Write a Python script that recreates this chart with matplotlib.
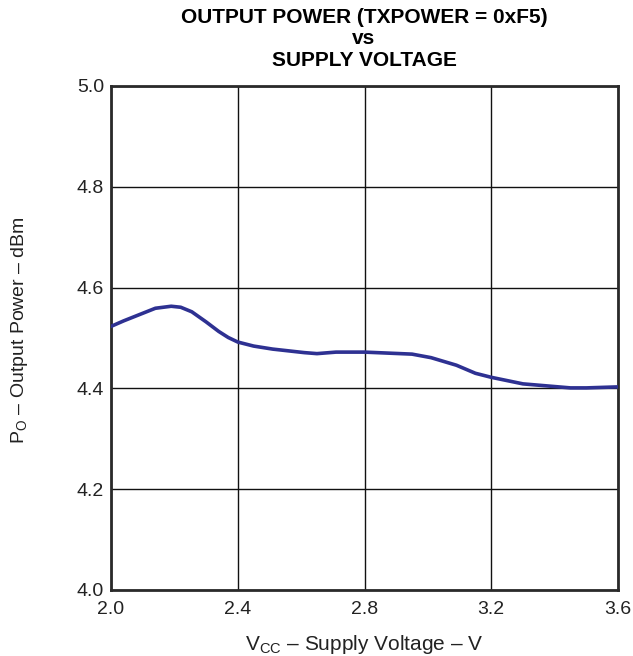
import numpy as np
import matplotlib
matplotlib.use("Agg")
import matplotlib.pyplot as plt

plt.rcParams['font.family'] = ['Liberation Sans', 'DejaVu Sans']
plt.rcParams['mathtext.fontset'] = 'custom'
plt.rcParams['mathtext.rm'] = 'Liberation Sans'

# supply voltage (V) and output power (dBm)
vcc = [2.00, 2.04, 2.10, 2.14, 2.19, 2.22, 2.255, 2.30, 2.34, 2.37, 2.40,
       2.45, 2.51, 2.61, 2.65, 2.71, 2.80, 2.95, 3.01, 3.09, 3.15, 3.20,
       3.30, 3.45, 3.50, 3.60]
p_out = [4.523, 4.534, 4.549, 4.559, 4.563, 4.561, 4.552, 4.532, 4.513,
         4.501, 4.492, 4.484, 4.478, 4.471, 4.469, 4.472, 4.472, 4.468,
         4.461, 4.446, 4.430, 4.422, 4.409, 4.401, 4.401, 4.403]

x_ticks = [2.0, 2.4, 2.8, 3.2, 3.6]
y_ticks = [4.0, 4.2, 4.4, 4.6, 4.8, 5.0]

fig = plt.figure(figsize=(6.33, 6.56), dpi=100)
ax = fig.add_axes([111 / 633, 1 - 590 / 656, 507 / 633, 504 / 656])

ax.plot(vcc, p_out, color="#2e3192", lw=2.6, solid_capstyle="round",
        solid_joinstyle="round", zorder=3)

ax.set_xlim(2.0, 3.6)
ax.set_ylim(4.0, 5.0)
ax.set_xticks(x_ticks)
ax.set_yticks(y_ticks)
ax.set_xticklabels([f"{t:.1f}" for t in x_ticks])
ax.set_yticklabels([f"{t:.1f}" for t in y_ticks])
ax.tick_params(length=0, labelsize=14, colors="#222222")
ax.tick_params(axis="y", pad=5)
ax.tick_params(axis="x", pad=8)
ax.grid(True, color="#111111", lw=1.0)
for s in ax.spines.values():
    s.set_linewidth(2.0)
    s.set_color("#2a2a2a")

fig.text(364 / 633, 1 - 645 / 656, r"V$_{\mathrm{CC}}$ – Supply Voltage – V",
         fontsize=15, color="#222222", ha="center", va="center")
fig.text(20 / 633, 1 - 330 / 656, r"P$_{\mathrm{O}}$ – Output Power – dBm",
         fontsize=14, color="#222222", ha="center", va="center", rotation=90)

fig.text(364 / 633, 1 - 39 / 656,
         "OUTPUT POWER (TXPOWER = 0xF5)\nvs\nSUPPLY VOLTAGE",
         ha="center", va="center", fontsize=15, fontweight="bold",
         linespacing=1.17)

fig.savefig("out.png", dpi=100)
